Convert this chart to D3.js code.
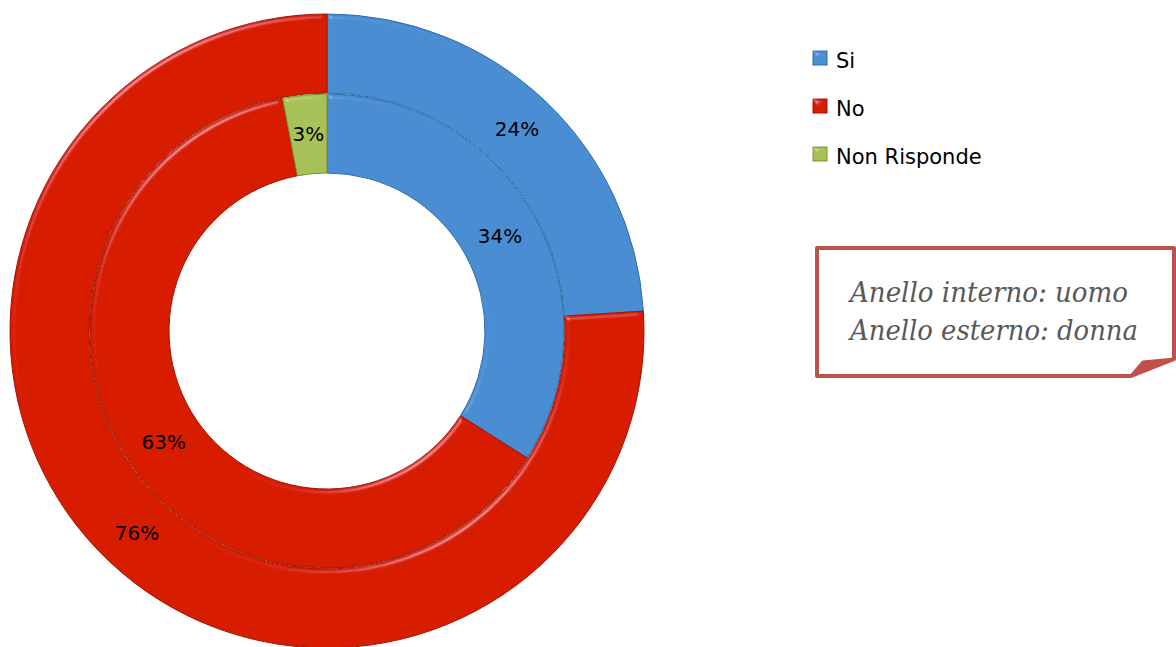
<!DOCTYPE html>
<html>
<head>
<meta charset="utf-8">
<script src="https://cdn.jsdelivr.net/npm/d3@7"></script>
<style>
  body { margin: 0; background: #fff; }
  svg { display: block; }
</style>
</head>
<body>
<svg width="1176" height="647"></svg>
<script>
// data (percent)
var categories = ["Si", "No", "Non Risponde"];
var innerValues = [34, 63, 3];   // uomo
var outerValues = [24, 76, 0];   // donna
var noteLines = ["Anello interno: uomo", "Anello esterno: donna"];

var colors = ["#4a8dd2", "#d81c00", "#a6c257"];
var edges = ["#2f6aa8", "#9e1400", "#7a9238"];

var svg = d3.select("svg");
var cx = 327, cy = 331;

var defs = svg.append("defs");
var f = defs.append("filter").attr("id", "bevel").attr("x", "-5%").attr("y", "-5%").attr("width", "110%").attr("height", "110%");
f.append("feGaussianBlur").attr("in", "SourceAlpha").attr("stdDeviation", 2.5).attr("result", "blur");
f.append("feSpecularLighting").attr("in", "blur").attr("surfaceScale", 4).attr("specularConstant", 0.7)
  .attr("specularExponent", 40).attr("lighting-color", "#ffffff").attr("result", "spec")
  .append("feDistantLight").attr("azimuth", 235).attr("elevation", 30);
f.append("feComposite").attr("in", "spec").attr("in2", "SourceAlpha").attr("operator", "in").attr("result", "specOut");
f.append("feComposite").attr("in", "SourceGraphic").attr("in2", "specOut").attr("operator", "arithmetic")
  .attr("k1", 0).attr("k2", 1).attr("k3", 0.35).attr("k4", 0);

var pie = d3.pie().sort(null).value(function(d) { return d; });

function ring(values, r0, r1, cls) {
  var arc = d3.arc().innerRadius(r0).outerRadius(r1);
  var g = svg.append("g").attr("class", cls).attr("transform", "translate(" + cx + "," + cy + ")");
  var arcs = pie(values).filter(function(d) { return d.data > 0; });
  g.selectAll("path").data(arcs).enter().append("path")
    .attr("d", arc)
    .attr("fill", function(d) { return colors[d.index]; })
    .attr("stroke", function(d) { return edges[d.index]; })
    .attr("stroke-width", 1)
    .attr("filter", "url(#bevel)");
  g.selectAll("text").data(arcs).enter().append("text")
    .attr("transform", function(d) { return "translate(" + arc.centroid(d) + ")"; })
    .attr("text-anchor", "middle")
    .attr("dy", "0.35em")
    .style("font-family", "'DejaVu Sans', sans-serif")
    .style("font-size", "20px")
    .attr("fill", "#000")
    .text(function(d) { return d.data + "%"; });
}

ring(outerValues, 238, 317, "outer");
ring(innerValues, 158, 237, "inner");

// legend
var legend = svg.append("g").attr("transform", "translate(813,51)");
var item = legend.selectAll("g").data(categories).enter().append("g")
  .attr("transform", function(d, i) { return "translate(0," + (i * 48) + ")"; });
item.append("rect").attr("width", 14).attr("height", 14)
  .attr("fill", function(d, i) { return colors[i]; })
  .attr("stroke", function(d, i) { return edges[i]; }).attr("stroke-width", 1)
  .attr("filter", "url(#bevel)");
item.append("text").attr("x", 23).attr("y", 17)
  .style("font-family", "'DejaVu Sans', sans-serif")
  .style("font-size", "21px")
  .attr("fill", "#000")
  .text(function(d) { return d; });

// note box with folded corner
var box = svg.append("g");
box.append("path")
  .attr("d", "M817,248 L1174,248 L1174,359 L1131,376 L817,376 Z")
  .attr("fill", "#fff").attr("stroke", "#c0504d").attr("stroke-width", 4).attr("stroke-linejoin", "round");
box.append("path")
  .attr("d", "M1131,376 L1143,362 L1174,359 Z")
  .attr("fill", "#c0504d").attr("stroke", "#c0504d").attr("stroke-width", 3).attr("stroke-linejoin", "round");
box.selectAll("text").data(noteLines).enter().append("text")
  .attr("x", 850).attr("y", function(d, i) { return 302 + i * 38; })
  .style("font-family", "'DejaVu Serif', serif")
  .style("font-style", "italic")
  .style("font-size", "27px")
  .attr("fill", "#595959")
  .attr("textLength", function(d, i) { return i ? 288 : 278; })
  .attr("lengthAdjust", "spacingAndGlyphs")
  .text(function(d) { return d; });
</script>
</body>
</html>
